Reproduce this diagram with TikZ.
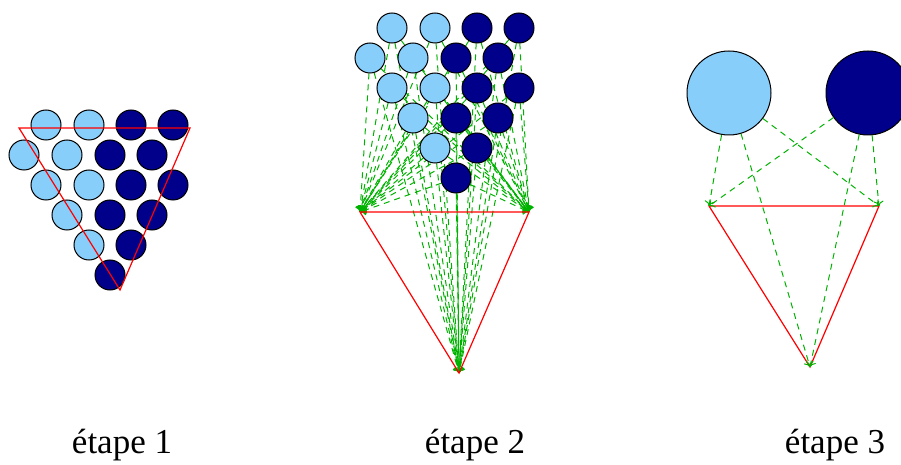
\documentclass[tikz,border=0pt]{standalone}
\usepackage{fontspec}
\setmainfont{Liberation Serif}
\usetikzlibrary{arrows.meta,backgrounds}
\definecolor{skyball}{RGB}{135,206,250}
\definecolor{navyball}{RGB}{0,0,139}
\definecolor{linkgreen}{RGB}{0,178,0}

\begin{document}
\begin{tikzpicture}[x=0.5pt, y=-0.5pt,
  ball/.style={circle, draw, line width=0.5pt, inner sep=0pt, minimum size=15pt},
  pale/.style={ball, fill=skyball},
  deep/.style={ball, fill=navyball},
  big/.style={minimum size=42pt},
  tri/.style={draw=red, line width=0.6pt},
  link/.style={draw=linkgreen, dash pattern=on 3pt off 2.5pt, line width=0.5pt,
               -{To[length=2.5pt,width=5pt]}},
  stagename/.style={anchor=base, font=\fontsize{17.5}{21}\selectfont}]
\useasboundingbox (0,0) rectangle (901,465);
% stage 1: balls packed in the triangle
\node[pale] (a1) at (46,125) {};
\node[pale] (a2) at (89,125) {};
\node[deep] (a3) at (131,125) {};
\node[deep] (a4) at (173,125) {};
\node[pale] (a5) at (24,155) {};
\node[pale] (a6) at (67,155) {};
\node[deep] (a7) at (110,155) {};
\node[deep] (a8) at (152,155) {};
\node[pale] (a9) at (46,185) {};
\node[pale] (a10) at (89,185) {};
\node[deep] (a11) at (131,185) {};
\node[deep] (a12) at (173,185) {};
\node[pale] (a13) at (67,215) {};
\node[deep] (a14) at (110,215) {};
\node[deep] (a15) at (152,215) {};
\node[pale] (a16) at (89,245) {};
\node[deep] (a17) at (131,245) {};
\node[deep] (a18) at (110,275) {};
\coordinate (al) at (19,128);
\coordinate (ar) at (190,128);
\coordinate (ab) at (120,290);
\draw[tri] (al) -- (ar) -- (ab) -- cycle;
% stage 2: balls lifted out, linked to every corner
\node[pale] (b1) at (392,28) {};
\node[pale] (b2) at (435,28) {};
\node[deep] (b3) at (477,28) {};
\node[deep] (b4) at (519,28) {};
\node[pale] (b5) at (370,58) {};
\node[pale] (b6) at (413,58) {};
\node[deep] (b7) at (456,58) {};
\node[deep] (b8) at (498,58) {};
\node[pale] (b9) at (392,88) {};
\node[pale] (b10) at (435,88) {};
\node[deep] (b11) at (477,88) {};
\node[deep] (b12) at (519,88) {};
\node[pale] (b13) at (413,118) {};
\node[deep] (b14) at (456,118) {};
\node[deep] (b15) at (498,118) {};
\node[pale] (b16) at (435,148) {};
\node[deep] (b17) at (477,148) {};
\node[deep] (b18) at (456,178) {};
\coordinate (bl) at (360,212);
\coordinate (br) at (529,212);
\coordinate (bb) at (459,373);
\draw[tri] (bl) -- (br) -- (bb) -- cycle;
% links go under the balls
\begin{scope}[on background layer]
\foreach \n in {1,...,18}
  \foreach \c in {bl,br,bb}
    \draw[link] (b\n) -- (\c);
\end{scope}
% stage 3: one ball per colour
\node[pale, big] (clight) at (729,93) {};
\node[deep, big] (cdark) at (868,93) {};
\coordinate (cl) at (709,206);
\coordinate (cr) at (879,206);
\coordinate (cb) at (810,367);
\draw[tri] (cl) -- (cr) -- (cb) -- cycle;
\foreach \b in {clight,cdark}
  \foreach \c in {cl,cr,cb}
    \draw[link] (\b) -- (\c);
% captions
\node[stagename] (t1) at (122,453) {étape 1};
\node[stagename] (t2) at (475,453) {étape 2};
\node[stagename] (t3) at (835,453) {étape 3};
\end{tikzpicture}
\end{document}
